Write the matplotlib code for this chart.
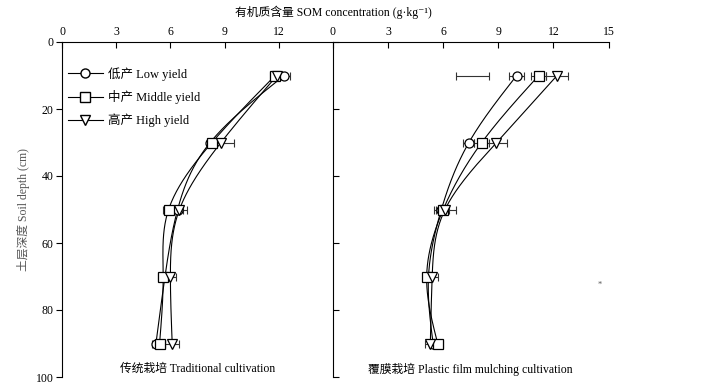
import numpy as np
import matplotlib
matplotlib.use('Agg')
import matplotlib.pyplot as plt
from matplotlib.lines import Line2D

plt.rcParams['font.family'] = ['Liberation Serif', 'Noto Sans CJK SC', 'DejaVu Serif']
plt.rcParams['axes.unicode_minus'] = False

# depth of each sampling layer (cm)
depth = [10, 30, 50, 70, 90]

# SOM concentration (g/kg) - traditional cultivation
trad_low = [12.3, 8.2, 6.4, 5.7, 5.2]
trad_low_err = [0.3, 0.2, 0.3, 0.2, 0.2]
trad_mid = [11.8, 8.3, 5.9, 5.6, 5.4]
trad_mid_err = [0.3, 0.3, 0.3, 0.3, 0.3]
trad_high = [11.9, 8.8, 6.5, 6.0, 6.1]
trad_high_err = [0.35, 0.7, 0.4, 0.3, 0.4]

# SOM concentration (g/kg) - plastic film mulching
film_low = [10.0, 7.4, 5.9, 5.2, 5.45]
film_low_err = [0.4, 0.3, 0.3, 0.2, 0.2]
film_mid = [11.2, 8.1, 6.0, 5.1, 5.7]
film_mid_err = [0.4, 0.4, 0.3, 0.2, 0.3]
film_high = [12.2, 8.9, 6.1, 5.4, 5.3]
film_high_err = [0.6, 0.6, 0.6, 0.3, 0.3]

# stray error bar without marker in the original figure
stray_x, stray_depth, stray_err = 7.6, 10, 0.9

labels = ['低产 Low yield', '中产 Middle yield', '高产 High yield']
markers = ['o', 's', 'v']


def smooth(y, x, n=200):
    # natural cubic spline of x as a function of depth y
    y = np.asarray(y, float)
    x = np.asarray(x, float)
    k = len(y)
    h = np.diff(y)
    A = np.zeros((k, k))
    b = np.zeros(k)
    A[0, 0] = A[-1, -1] = 1
    for i in range(1, k - 1):
        A[i, i - 1] = h[i - 1]
        A[i, i] = 2 * (h[i - 1] + h[i])
        A[i, i + 1] = h[i]
        b[i] = 6 * ((x[i + 1] - x[i]) / h[i] - (x[i] - x[i - 1]) / h[i - 1])
    m = np.linalg.solve(A, b)
    yy = np.linspace(y[0], y[-1], n)
    idx = np.clip(np.searchsorted(y, yy) - 1, 0, k - 2)
    t0, t1 = y[idx], y[idx + 1]
    hi = t1 - t0
    xx = (m[idx] * (t1 - yy) ** 3 / (6 * hi) + m[idx + 1] * (yy - t0) ** 3 / (6 * hi)
          + (x[idx] / hi - m[idx] * hi / 6) * (t1 - yy)
          + (x[idx + 1] / hi - m[idx + 1] * hi / 6) * (yy - t0))
    return xx, yy


fig = plt.figure(figsize=(7.06, 3.85), dpi=100)
ax1 = fig.add_axes([62 / 706, 8 / 385, 271 / 706, 335 / 385])
ax2 = fig.add_axes([333 / 706, 8 / 385, 275.5 / 706, 335 / 385])
ax2.patch.set_visible(False)
ax1.set_zorder(2)
ax1.patch.set_visible(False)

panels = [
    (ax1, [trad_low, trad_mid, trad_high], [trad_low_err, trad_mid_err, trad_high_err]),
    (ax2, [film_low, film_mid, film_high], [film_low_err, film_mid_err, film_high_err]),
]

for ax, series, errs in panels:
    for vals, err, mk in zip(series, errs, markers):
        xs, ys = smooth(depth, vals)
        ax.plot(xs, ys, color='black', lw=0.8, zorder=2)
        ax.errorbar(vals, depth, xerr=err, fmt='none', ecolor='#333333',
                    elinewidth=0.8, capsize=3, capthick=0.8, zorder=3)
        ax.plot(vals, depth, linestyle='none', marker=mk, markersize=6.5,
                markerfacecolor='white', markeredgecolor='black',
                markeredgewidth=0.9, zorder=4)
    ax.set_xlim(0, 15)
    ax.set_ylim(100, 0)
    ax.xaxis.tick_top()
    ax.tick_params(axis='x', direction='in', length=4, width=0.8, labelsize=8.5,
                   pad=3)
    ax.spines['bottom'].set_visible(False)
    for s in ax.spines.values():
        s.set_linewidth(0.8)

ax2.errorbar(stray_x, stray_depth, xerr=stray_err, fmt='none', ecolor='#333333',
             elinewidth=0.8, capsize=3, capthick=0.8)

ax1.set_xticks([0, 3, 6, 9, 12])
ax2.set_xticks([0, 3, 6, 9, 12, 15])
ax1.set_yticks([0, 20, 40, 60, 80, 100])
ax1.tick_params(axis='y', left=True, right=True, direction='out', length=4,
                width=0.8, labelsize=8.5, pad=2)
ax2.set_yticks([])
ax2.spines['left'].set_visible(False)
ax2.spines['right'].set_visible(False)

ax1.set_ylabel('土层深度 Soil depth (cm)', fontsize=8.5, color='#555555',
               labelpad=4)

fig.text(333 / 706, 1 - 12 / 385, '有机质含量 SOM concentration (g·kg⁻¹)',
         ha='center', va='center', fontsize=8.5)

ax1.text(0.5, 0.025, '传统栽培 Traditional cultivation', transform=ax1.transAxes,
         ha='center', va='center', fontsize=8.5)
ax2.text(0.5, 0.022, '覆膜栽培 Plastic film mulching cultivation',
         transform=ax2.transAxes, ha='center', va='center', fontsize=8.5)
ax2.text(14.5, 72.5, '*', ha='center', va='center', fontsize=6, color='#555555')

handles = [Line2D([], [], color='black', lw=0.8, marker=mk, markersize=6.5,
                  markerfacecolor='white', markeredgecolor='black')
           for mk in markers]
ax1.legend(handles, labels, loc='upper left', bbox_to_anchor=(0.022, 0.925),
           frameon=False, fontsize=9, handlelength=2.8, handletextpad=0.4,
           labelspacing=0.75, borderaxespad=0, borderpad=0)

fig.savefig('out.png', dpi=100)
